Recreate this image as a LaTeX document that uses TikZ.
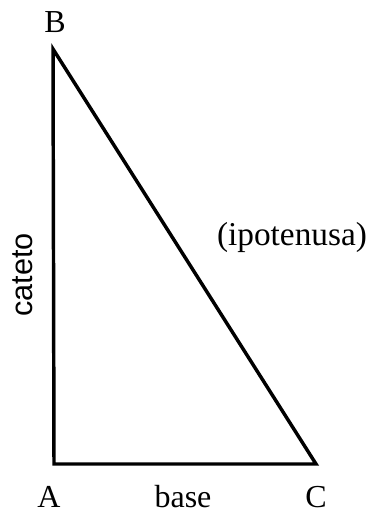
\documentclass[tikz,border=0pt]{standalone}
\usepackage{fontspec}
\setmainfont{Liberation Serif}
\setsansfont{Liberation Sans}

\begin{document}
\begin{tikzpicture}[x=.75pt,y=-.75pt,line width=2.6pt,font=\fontsize{24}{28}\selectfont]
\useasboundingbox (0,0) rectangle (368,514);
\coordinate (A) at (54,464);
\coordinate (B) at (53,49);
\coordinate (C) at (316,464);
\draw[line join=miter] (B)--(A)--(C)--cycle;
\node[anchor=base,inner sep=0pt] (lB) at (55,32) {B};
\node[anchor=base,inner sep=0pt] (lA) at (49,507) {A};
\node[anchor=base,inner sep=0pt] (lC) at (316,507) {C};
\node[anchor=base,inner sep=0pt] (lbase) at (183,507) {base};
\node[anchor=base,inner sep=0pt,font=\fontsize{25}{28}\selectfont] (lipo) at (292,245) {(ipotenusa)};
\node[anchor=base,rotate=90,inner sep=0pt,font=\sffamily\fontsize{23}{28}\selectfont] (lcat) at (32,275) {cateto};
\end{tikzpicture}
\end{document}
